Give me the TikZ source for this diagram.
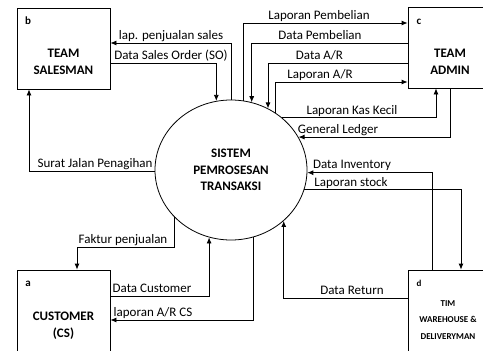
\documentclass[tikz,border=0pt]{standalone}
\usepackage{fontspec}
\setmainfont{Carlito}
\usetikzlibrary{arrows.meta,shapes.geometric}

\begin{document}
\begin{tikzpicture}[x=1pt,y=-1pt]
        \tikzset{entity/.style = {shape=rectangle,draw,line width=0.8pt,inner sep=0pt},
                 flow/.style = {line width=0.8pt,-{Latex[length=6pt,width=5pt]}},
                 lbl/.style = {font=\fontsize{13}{15}\selectfont,inner sep=0pt,anchor=base},
                 ename/.style = {font=\fontsize{13}{17}\selectfont\bfseries,align=center,inner sep=0pt},
                 tag/.style = {font=\fontsize{11}{13}\selectfont\bfseries,inner sep=0pt}};
        \useasboundingbox (0,0) rectangle (483,351);
        \clip (0,0) rectangle (483,351);
        % entities
        \node[entity,minimum width=93pt,minimum height=81pt] (b) at (63.5,48.5) {};
        \node[entity,minimum width=84pt,minimum height=81pt] (c) at (450,47.5) {};
        \node[entity,minimum width=93pt,minimum height=100pt] (a) at (63.5,320) {};
        \node[entity,minimum width=84pt,minimum height=100pt] (d) at (450,320) {};
        \node[tag] (tb) at (28,21) {b};
        \node[tag] (tc) at (419,22) {c};
        \node[tag] (ta) at (28,284) {a};
        \node[tag,font=\fontsize{9}{11}\selectfont\bfseries] (td) at (419,283) {d};
        \node[ename] (nb) at (63.5,61.5) {TEAM\\SALESMAN};
        \node[ename] (nc) at (450,61.5) {TEAM\\ADMIN};
        \node[ename] (na) at (63.5,326) {CUSTOMER\\(CS)};
        \node[ename,font=\fontsize{9}{16.5}\selectfont\bfseries] (nd) at (448,320) {TIM\\WAREHOUSE \&\\DELIVERYMAN};
        % process
        \node[ellipse,draw,line width=0.8pt,minimum width=152pt,minimum height=140pt,inner sep=0pt,
              align=center,font=\fontsize{13}{16.5}\selectfont\bfseries] (sys) at (231,170) {SISTEM\\PEMROSESAN\\TRANSAKSI};
        % flows
        \draw[flow] (sys.90) |- (b.east |- 0,43);
        \node[lbl] (l1) at (171,39.5) {lap. penjualan sales};
        \draw[flow] (b.east |- 0,63) -| (sys.102);
        \node[lbl] (l2) at (171,59) {Data Sales Order (SO)};
        \draw[flow] (sys.80) |- (c.west |- 0,23);
        \node[lbl] (l3) at (319,19.5) {Laporan Pembelian};
        \draw[flow] (c.west |- 0,43) -| (sys.73);
        \node[lbl] (l4) at (320,39.5) {Data Pembelian};
        \draw[flow] (c.west |- 0,63) -| (sys.59);
        \node[lbl] (l5) at (319.5,59.5) {Data A/R};
        \draw[flow] (sys.52) |- (c.west |- 0,82);
        \node[lbl] (l6) at (320,78.5) {Laporan A/R};
        \draw[flow] (sys.46) -| (c.south -| 436,0);
        \node[lbl] (l7) at (352,114.5) {Laporan Kas Kecil};
        \draw[flow] (c.south) |- (sys.26);
        \node[lbl] (l8) at (338,133.5) {General Ledger};
        \draw[flow] (d.north -| 432,0) |- (sys.358);
        \node[lbl] (l9) at (352,168.5) {Data Inventory};
        \draw[flow] (sys.345) -| (d.north -| 461,0);
        \node[lbl] (l10) at (351,186.5) {Laporan stock};
        \draw[flow] (d.west |- 0,298) -| (sys.316);
        \node[lbl] (l11) at (352,294.5) {Data Return};
        \draw[flow] (sys.288) |- (a.east |- 0,320);
        \node[lbl] (l12) at (153,316.5) {laporan A/R CS};
        \draw[flow] (a.east |- 0,296) -| (sys.252);
        \node[lbl] (l13) at (152,292.5) {Data Customer};
        \draw[flow] (sys.220) |- (77,247) -- (a.north -| 77,0);
        \node[lbl] (l14) at (123,243.5) {Faktur penjualan};
        \draw[flow] (sys.181) -| (b.south -| 29,0);
        \node[lbl] (l15) at (95,167.5) {Surat Jalan Penagihan};
\end{tikzpicture}
\end{document}
